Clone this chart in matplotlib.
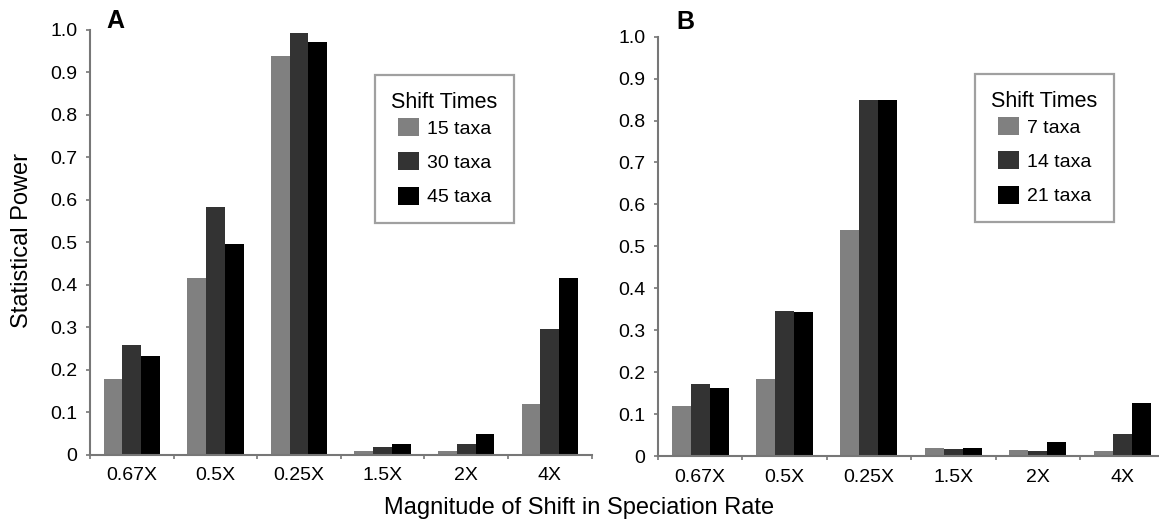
import numpy as np
import matplotlib.pyplot as plt
from matplotlib.patches import Patch

plt.rcParams['font.family'] = ['Liberation Sans', 'DejaVu Sans']

categories = ['0.67X', '0.5X', '0.25X', '1.5X', '2X', '4X']

# panel A: 15 / 30 / 45 taxa
a_labels = ['15 taxa', '30 taxa', '45 taxa']
a_15 = [0.178, 0.416, 0.938, 0.009, 0.009, 0.119]
a_30 = [0.258, 0.583, 0.992, 0.018, 0.025, 0.296]
a_45 = [0.232, 0.496, 0.971, 0.025, 0.049, 0.416]

# panel B: 7 / 14 / 21 taxa
b_labels = ['7 taxa', '14 taxa', '21 taxa']
b_7 = [0.119, 0.183, 0.538, 0.019, 0.014, 0.012]
b_14 = [0.171, 0.347, 0.849, 0.017, 0.012, 0.052]
b_21 = [0.162, 0.343, 0.849, 0.019, 0.033, 0.126]

colors = ['#808080', '#333333', '#000000']
spine_col = '#777777'


def draw_panel(ax, series, labels, leg_anchor):
    x = np.arange(len(categories))
    w = 0.225
    for k, vals in enumerate(series):
        ax.bar(x + (k - 1) * w, vals, width=w, color=colors[k], linewidth=0)
    ax.set_xlim(-0.5, len(categories) - 0.5)
    ax.set_ylim(0, 1.0)
    ax.set_yticks(np.arange(0, 1.01, 0.1))
    ax.set_yticklabels(['0'] + ['%.1f' % v for v in np.arange(0.1, 1.01, 0.1)])
    # labels centred on groups, ticks between groups
    ax.set_xticks(np.arange(-0.5, len(categories) + 0.5, 1.0))
    ax.set_xticklabels([])
    ax.set_xticks(x, minor=True)
    ax.set_xticklabels(categories, minor=True)
    ax.tick_params(axis='x', which='minor', length=0, labelsize=14, pad=9)
    ax.tick_params(axis='x', which='major', length=3, color=spine_col, width=1.2)
    ax.tick_params(axis='y', length=3, color=spine_col, width=1.2, labelsize=14, pad=6)
    for s in ['top', 'right']:
        ax.spines[s].set_visible(False)
    for s in ['left', 'bottom']:
        ax.spines[s].set_color(spine_col)
        ax.spines[s].set_linewidth(1.5)
    handles = [Patch(facecolor=c, edgecolor='none') for c in colors]
    leg = ax.legend(handles, labels, title='Shift Times', loc='upper left',
                    bbox_to_anchor=leg_anchor, fontsize=14, title_fontsize=15.5,
                    frameon=True, fancybox=False, handlelength=1.05, handleheight=1.05,
                    handletextpad=0.4, labelspacing=0.75, borderpad=0.85,
                    borderaxespad=0)
    # tighter gap between the title and the first entry
    leg._legend_box.sep = 4
    leg.get_frame().set_edgecolor('#888888')
    leg.get_frame().set_linewidth(1.6)


fig = plt.figure(figsize=(11.59, 5.22), dpi=100)
ax_a = fig.add_axes([0.0777, 0.1284, 0.4328, 0.8142])
ax_b = fig.add_axes([0.5677, 0.1264, 0.4369, 0.8033])

draw_panel(ax_a, [a_15, a_30, a_45], a_labels, (0.568, 0.894))
draw_panel(ax_b, [b_7, b_14, b_21], b_labels, (0.626, 0.911))

fig.text(106 / 1159, 1 - 28 / 522, 'A', fontsize=18, fontweight='bold',
         ha='left', va='baseline')
fig.text(676 / 1159, 1 - 29 / 522, 'B', fontsize=18, fontweight='bold',
         ha='left', va='baseline')
fig.text(22 / 1159, 1 - 240 / 522, 'Statistical Power', fontsize=17,
         rotation=90, ha='center', va='center')
fig.text(0.5, 1 - 508 / 522, 'Magnitude of Shift in Speciation Rate', fontsize=17,
         ha='center', va='center')

fig.savefig('out.png', dpi=100)
